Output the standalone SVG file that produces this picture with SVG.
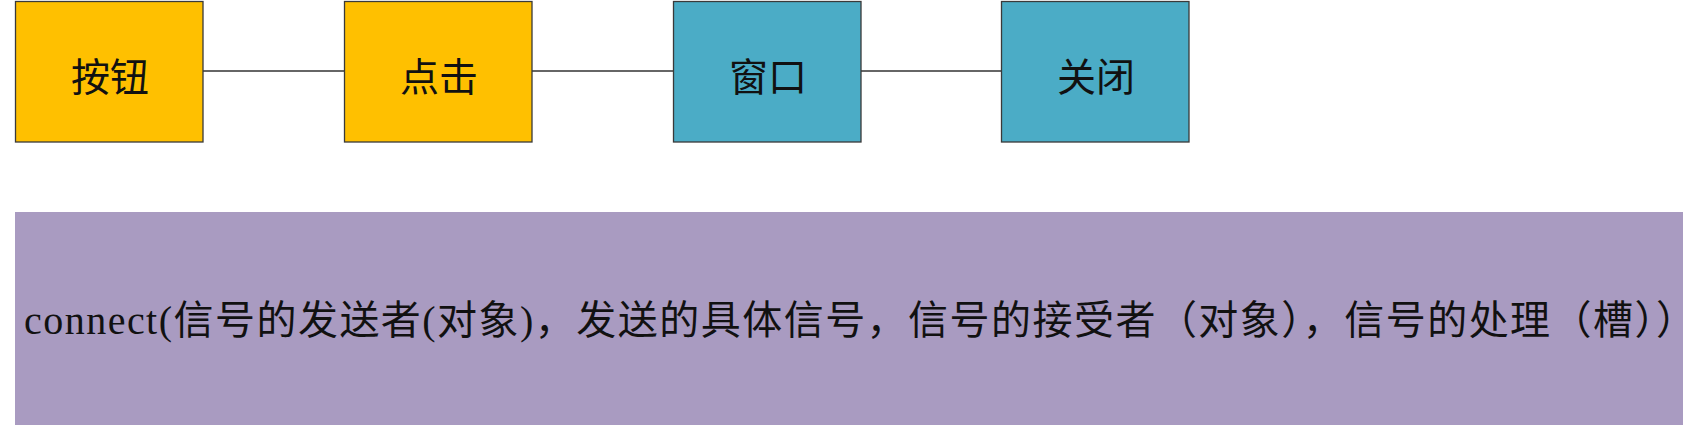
<svg xmlns="http://www.w3.org/2000/svg" width="1699" height="425" viewBox="0 0 1699 425">
<style>
.box{stroke:#3a3a3a;stroke-width:1.3}
.y{fill:#FFC000}
.b{fill:#4BACC6}
.t{font-family:"Noto Sans CJK SC","Noto Sans CJK TC",sans-serif;font-size:39px;fill:#111;text-anchor:middle}
.c{stroke:#333;stroke-width:1.3;fill:none}
.big{font-family:"Liberation Serif","Noto Sans CJK SC",serif;font-size:40px;fill:#111}
</style>
<rect x="0" y="0" width="1699" height="425" fill="#ffffff"/>
<g id="connectors">
<line class="c" x1="203" y1="71" x2="344" y2="71"/>
<line class="c" x1="532" y1="71" x2="673" y2="71"/>
<line class="c" x1="861" y1="71" x2="1001" y2="71"/>
</g>
<g id="node-button">
<rect class="box y" x="15.5" y="1.5" width="187.5" height="140.5"/>
<text class="t" x="110" y="91">按钮</text>
</g>
<g id="node-click">
<rect class="box y" x="344.5" y="1.5" width="187.5" height="140.5"/>
<text class="t" x="439" y="91">点击</text>
</g>
<g id="node-window">
<rect class="box b" x="673.5" y="1.5" width="187.5" height="140.5"/>
<text class="t" x="768" y="91">窗口</text>
</g>
<g id="node-close">
<rect class="box b" x="1001.5" y="1.5" width="187.5" height="140.5"/>
<text class="t" x="1096" y="91">关闭</text>
</g>
<g id="node-connect">
<rect x="15" y="212" width="1668" height="213" fill="#A99BC1"/>
<text class="big" x="24" y="334" textLength="1672" lengthAdjust="spacing">connect(信号的发送者(对象)，发送的具体信号，信号的接受者（对象），信号的处理（槽））</text>
</g>
</svg>
